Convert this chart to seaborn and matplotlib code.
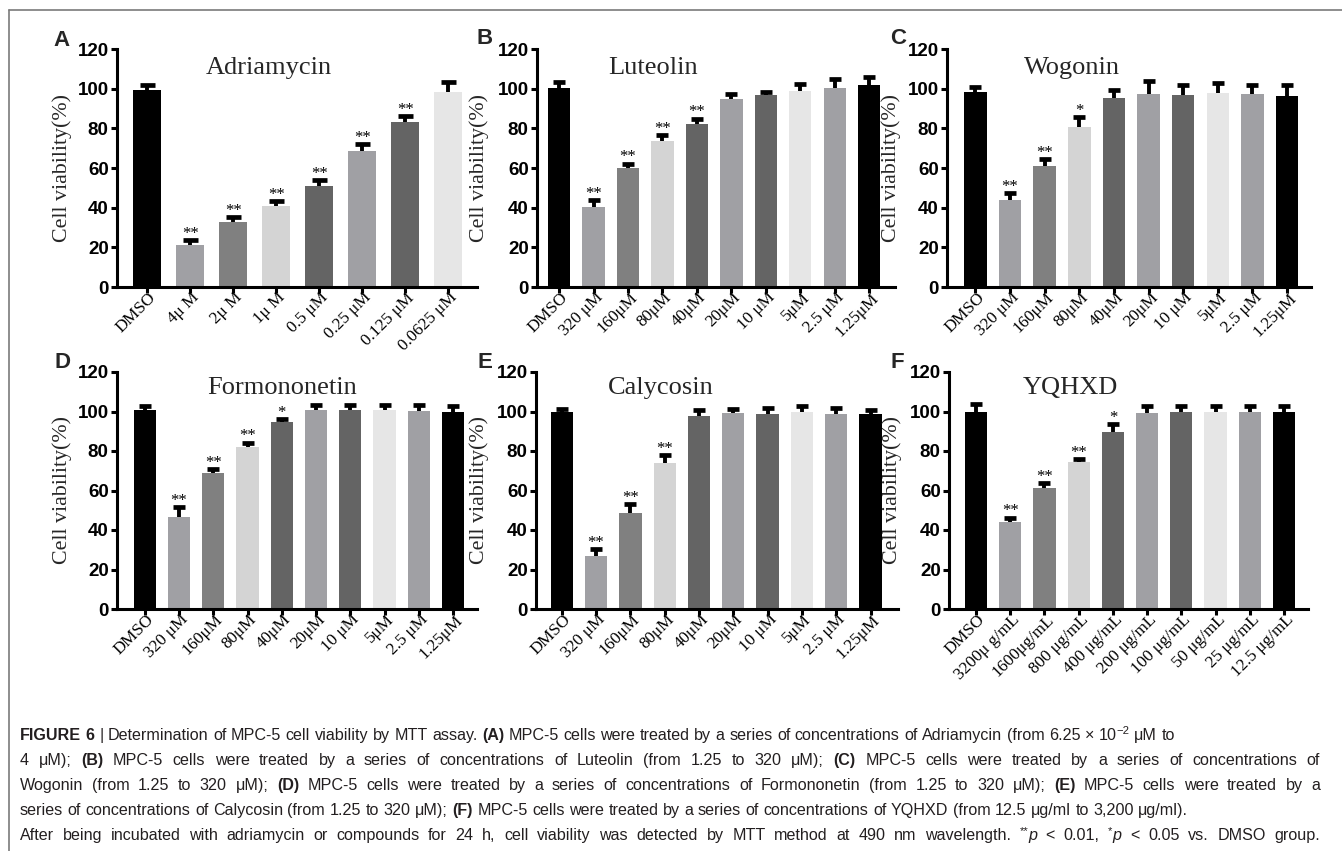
import matplotlib
matplotlib.use("Agg")
import matplotlib.pyplot as plt
import seaborn as sns
import pandas as pd
import numpy as np
from matplotlib.transforms import ScaledTranslation
from matplotlib.lines import Line2D

# ---------------- data ----------------
titles = ["Adriamycin", "Luteolin", "Wogonin", "Formononetin", "Calycosin", "YQHXD"]
letters = ["A", "B", "C", "D", "E", "F"]

labels_A = ["DMSO", "4μ M", "2μ M", "1μ M", "0.5 μM", "0.25 μM", "0.125 μM", "0.0625 μM"]
values_A = [99.5, 21.0, 32.6, 41.0, 50.8, 68.4, 83.0, 98.3]
errors_A = [2.2, 2.7, 2.7, 2.2, 3.3, 3.5, 3.0, 5.1]
sig_A = ["", "**", "**", "**", "**", "**", "**", ""]

labels_um = ["DMSO", "320 μM", "160μM", "80μM", "40μM", "20μM", "10 μM", "5μM", "2.5 μM", "1.25μM"]

labels_B = labels_um
values_B = [100.3, 40.3, 59.8, 73.4, 82.0, 94.8, 96.6, 99.0, 100.2, 102.0]
errors_B = [3.1, 3.7, 2.4, 3.2, 2.9, 2.5, 1.7, 3.4, 4.8, 3.9]
sig_B = ["", "**", "**", "**", "**", "", "", "", "", ""]

labels_C = labels_um
values_C = [98.5, 44.0, 60.8, 80.8, 95.3, 97.3, 96.8, 97.8, 97.3, 96.3]
errors_C = [2.3, 3.4, 3.7, 4.7, 4.2, 6.4, 5.2, 5.1, 4.7, 5.7]
sig_C = ["", "**", "**", "*", "", "", "", "", "", ""]

labels_D = labels_um
values_D = [100.7, 46.8, 68.7, 81.8, 94.8, 100.7, 100.7, 100.7, 100.3, 99.7]
errors_D = [2.3, 5.0, 2.2, 2.5, 1.3, 2.8, 2.8, 2.8, 2.9, 3.0]
sig_D = ["", "**", "**", "**", "*", "", "", "", "", ""]

labels_E = labels_um
values_E = [99.8, 26.6, 48.5, 74.0, 97.6, 99.0, 98.8, 99.7, 98.7, 98.5]
errors_E = [1.7, 3.7, 4.7, 3.9, 3.1, 2.5, 3.1, 3.3, 3.3, 2.2]
sig_E = ["", "**", "**", "**", "", "", "", "", "", ""]

labels_F = ["DMSO", "3200μ g/mL", "1600μg/mL", "800 μg/mL", "400 μg/mL", "200 μg/mL",
            "100 μg/mL", "50 μg/mL", "25 μg/mL", "12.5 μg/mL"]
values_F = [99.8, 44.2, 61.4, 74.2, 89.5, 99.3, 99.7, 99.5, 99.7, 99.8]
errors_F = [3.9, 2.1, 2.3, 1.7, 4.1, 3.4, 3.0, 3.5, 3.0, 2.9]
sig_F = ["", "**", "**", "**", "*", "", "", "", "", ""]

bar_colors = ["#000000", "#a0a0a4", "#808080", "#d4d4d4", "#646464",
              "#a0a0a4", "#646464", "#e6e6e6", "#a0a0a4", "#000000"]

y_ticks = [0, 20, 40, 60, 80, 100, 120]
y_label = "Cell viability(%)"

caption_lines = [
    "§FIGURE §6 | Determination of MPC-5 cell viability by MTT assay. §(A) MPC-5 cells were treated by a series of concentrations of Adriamycin (from 6.25 × 10^-2 μM to",
    "4 μM); §(B) MPC-5 cells were treated by a series of concentrations of Luteolin (from 1.25 to 320 μM); §(C) MPC-5 cells were treated by a series of concentrations of",
    "Wogonin (from 1.25 to 320 μM); §(D) MPC-5 cells were treated by a series of concentrations of Formononetin (from 1.25 to 320 μM); §(E) MPC-5 cells were treated by a",
    "series of concentrations of Calycosin (from 1.25 to 320 μM); §(F) MPC-5 cells were treated by a series of concentrations of YQHXD (from 12.5 μg/ml to 3,200 μg/ml).",
    "After being incubated with adriamycin or compounds for 24 h, cell viability was detected by MTT method at 490 nm wavelength. **p < 0.01, *p < 0.05 vs. DMSO group.",
]
caption_justified = [False, True, True, False, True]

# ---------------- style ----------------
W, H, DPI = 1342, 851, 100
sns.set_style("ticks")
plt.rcParams["font.family"] = ["Liberation Sans", "DejaVu Sans"]
plt.rcParams["axes.linewidth"] = 2.2
SERIF = ["Liberation Serif", "DejaVu Serif"]

fig = plt.figure(figsize=(W / DPI, H / DPI), dpi=DPI)
fig.patch.set_facecolor("white")

layout = [
    ((117, 477, 49, 287), (-0.70, 7.67), (2.84, 107.5), (62, 40), 45),
    ((537, 895, 49, 287), (-0.64, 9.75), (2.72, 107.5), (485, 38), 48),
    ((947, 1311, 49, 287), (-0.82, 9.69), (2.79, 107.5), (898, 38), 46),
    ((117, 477, 372, 609), (-0.81, 9.70), (4.00, 109.0), (62, 362), 45),
    ((536, 898, 372, 609), (-0.75, 9.80), (2.90, 109.0), (485, 362), 47),
    ((949, 1308, 372, 609), (-0.79, 9.70), (2.75, 109.0), (897, 362), 47),
]

panels = [
    (labels_A, values_A, errors_A, sig_A),
    (labels_B, values_B, errors_B, sig_B),
    (labels_C, values_C, errors_C, sig_C),
    (labels_D, values_D, errors_D, sig_D),
    (labels_E, values_E, errors_E, sig_E),
    (labels_F, values_F, errors_F, sig_F),
]

for k, ((labels, values, errors, sig), (box, xlim, tpos, lpos, ylab_off)) in enumerate(zip(panels, layout)):
    l, r, t, b = box
    ax = fig.add_axes([l / W, 1 - b / H, (r - l) / W, (b - t) / H])
    n = len(labels)
    df = pd.DataFrame({"label": labels, "value": values})
    pal = {lab: bar_colors[i] for i, lab in enumerate(labels)}
    sns.barplot(data=df, x="label", y="value", hue="label", palette=pal, legend=False,
                order=labels, hue_order=labels, width=0.65, saturation=1,
                errorbar=None, edgecolor="none", linewidth=0, ax=ax)
    xs = np.arange(n)
    eb = ax.errorbar(xs, values, yerr=[np.zeros(n), errors], fmt="none", ecolor="black",
                     elinewidth=2.8, capsize=5.4 if n == 8 else 4.4, capthick=3.4, zorder=5)
    caps = eb[1]
    if len(caps) >= 2:
        caps[0].set_visible(False)  # hide lower cap, keep only the upper "T"
    for i, s in enumerate(sig):
        if s:
            ax.text(xs[i], values[i] + errors[i] + 1.1, s, ha="center", va="baseline",
                    fontsize=12, family=SERIF, color="black", zorder=6)
    ax.set_xlim(*xlim)
    ax.set_ylim(0, 120)
    ax.set_yticks(y_ticks)
    ax.set_yticklabels([str(v) for v in y_ticks], fontsize=13.5, fontweight="bold")
    ax.set_xlabel("")
    ax.set_ylabel(y_label, family=SERIF, fontsize=15.8)
    ax.yaxis.set_label_coords(-ylab_off / (r - l), 0.5)
    ax.tick_params(axis="y", direction="out", length=4.5, width=2.2, pad=1.5, colors="black")
    ax.tick_params(axis="x", direction="out", length=4, width=2.2, pad=2, colors="black")
    ax.set_xticks(xs)
    ax.set_xticklabels(labels, rotation=45, ha="right", va="center",
                       rotation_mode="anchor", family=SERIF, fontsize=12.3)
    off = ScaledTranslation(7 / 100, 0, fig.dpi_scale_trans)
    for lbl in ax.get_xticklabels():
        lbl.set_transform(lbl.get_transform() + off)
    sns.despine(ax=ax)
    for sp in ("left", "bottom"):
        ax.spines[sp].set_linewidth(2.2)
        ax.spines[sp].set_color("black")
    ax.set_facecolor("none")
    ax.text(tpos[0], tpos[1], titles[k], ha="center", va="baseline", fontsize=19, family=SERIF)
    fig.text(lpos[0] / W, 1 - lpos[1] / H, letters[k], ha="center", va="center",
             fontsize=16, fontweight="bold")

# frame lines
fig.add_artist(Line2D([9 / W, 1], [1 - 10 / H, 1 - 10 / H], transform=fig.transFigure,
                      color="#7a7a7a", lw=1.2))
fig.add_artist(Line2D([9 / W, 9 / W], [1 - 10 / H, 0], transform=fig.transFigure,
                      color="#7a7a7a", lw=1.2))

# ---------------- caption ----------------
CAP_FS = 11.6
specials = {
    "10^-2": [("10", "n"), ("−2", "sup")],
    "**p": [("**", "sup"), ("p", "i")],
    "*p": [("*", "sup"), ("p", "i")],
}
renderer = fig.canvas.get_renderer()


def run_props(kind, fs):
    p = dict(fontsize=fs, family=["Liberation Sans", "DejaVu Sans"], color="#231f20")
    if kind == "b":
        p["fontweight"] = "bold"
    if kind == "i":
        p["fontstyle"] = "italic"
    if kind == "sup":
        p["fontsize"] = fs * 0.7
    return p


def measure(txt, props):
    tt = fig.text(0, 0, txt, **props)
    w = tt.get_window_extent(renderer=renderer).width
    tt.remove()
    return w


baselines = [740, 765, 790, 815, 840]
x_left = 20
x_right = 1320
fs = CAP_FS
space_w = measure("a a", run_props("n", fs)) - measure("aa", run_props("n", fs))

for line, yb, just in zip(caption_lines, baselines, caption_justified):
    words = []
    for wd in line.split(" "):
        if wd in specials:
            words.append(specials[wd])
        elif wd.startswith("§"):
            words.append([(wd[1:], "b")])
        else:
            words.append([(wd, "n")])
    widths = [[measure(t, run_props(kd, fs)) for t, kd in wd] for wd in words]
    total = sum(sum(w) for w in widths)
    if just:
        gap = (x_right - x_left - total) / (len(words) - 1)
    else:
        gap = min(space_w, (x_right - x_left - total) / (len(words) - 1))
    x = x_left
    for wd, ws in zip(words, widths):
        for (t, kd), w in zip(wd, ws):
            dy = 5.5 if kd == "sup" else 0
            fig.text(x / W, 1 - (yb - dy) / H, t, ha="left", va="baseline", **run_props(kd, fs))
            x += w
        x += gap

fig.savefig("out.png", dpi=DPI, facecolor="white")
